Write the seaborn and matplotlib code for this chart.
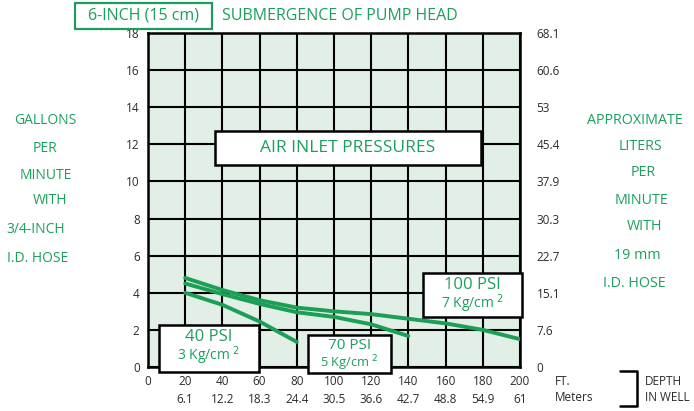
import pandas as pd
import matplotlib
matplotlib.use("Agg")
import matplotlib.pyplot as plt
import seaborn as sns

# ---- data ----
depth_ft = [0, 20, 40, 60, 80, 100, 120, 140, 160, 180, 200]
depth_m = ["", "6.1", "12.2", "18.3", "24.4", "30.5", "36.6", "42.7", "48.8", "54.9", "61"]
gpm_ticks = [0, 2, 4, 6, 8, 10, 12, 14, 16, 18]
lpm_labels = ["0", "7.6", "15.1", "22.7", "30.3", "37.9", "45.4", "53", "60.6", "68.1"]

psi40_x = [20, 40, 60, 80]
psi40_y = [4.0, 3.35, 2.45, 1.35]
psi70_x = [20, 40, 60, 80, 100, 120, 140]
psi70_y = [4.5, 3.93, 3.4, 2.95, 2.7, 2.3, 1.67]
psi100_x = [20, 40, 60, 80, 100, 120, 140, 160, 180, 200]
psi100_y = [4.8, 4.15, 3.6, 3.2, 3.0, 2.85, 2.6, 2.35, 2.0, 1.5]

df = pd.concat([
    pd.DataFrame({"ft": psi40_x, "gpm": psi40_y, "psi": "40"}),
    pd.DataFrame({"ft": psi70_x, "gpm": psi70_y, "psi": "70"}),
    pd.DataFrame({"ft": psi100_x, "gpm": psi100_y, "psi": "100"}),
])

GREEN = "#1aa05c"
LINE = "#1b9e55"
BG = "#e1efe6"
W, H = 694, 411

sns.set_style("white")
plt.rcParams["font.family"] = ["Open Sans", "DejaVu Sans"]

fig = plt.figure(figsize=(6.94, 4.11), dpi=100)
ax = fig.add_axes([148 / W, 44 / H, 372 / W, 334 / H])
ax.set_facecolor(BG)

sns.lineplot(data=df, x="ft", y="gpm", hue="psi", palette=[LINE] * 3,
             linewidth=2.8, legend=False, ax=ax, zorder=3)

ax.set_xlim(0, 200)
ax.set_ylim(0, 18)
ax.set_xticks(depth_ft)
ax.set_xticklabels([f"{f}\n{m}" if m else f"{f}\n " for f, m in zip(depth_ft, depth_m)],
                   fontsize=8.5, color="#2b2b2b", linespacing=1.5)
ax.set_yticks(gpm_ticks)
ax.set_yticklabels(gpm_ticks, fontsize=8.5, color="#2b2b2b")
ax.grid(True, color="black", linewidth=1.5)
ax.tick_params(length=0, pad=6)
for s in ax.spines.values():
    s.set_color("black")
    s.set_linewidth(1.8)
ax.set_xlabel(None)
ax.set_ylabel(None)

ax2 = ax.twinx()
ax2.set_ylim(0, 18)
ax2.set_yticks(gpm_ticks)
ax2.set_yticklabels(lpm_labels, fontsize=8.5, color="#2b2b2b")
ax2.tick_params(length=0, pad=12)
for s in ax2.spines.values():
    s.set_visible(False)


# ---- boxes and notes (pixel positions from the top-left) ----
def rect(x0, y0, x1, y1, ec="black", lw=1.8):
    fig.add_artist(plt.Rectangle((x0 / W, 1 - y1 / H), (x1 - x0) / W, (y1 - y0) / H,
                                 transform=fig.transFigure, facecolor="white",
                                 edgecolor=ec, linewidth=lw, zorder=5))


def label(x, y, s, fs, color=GREEN, ha="center"):
    fig.text(x / W, 1 - y / H, s, fontsize=fs, color=color, ha=ha, va="center", zorder=6)


rect(75, 3, 212, 29, ec=GREEN, lw=1.6)
label(143, 16, "6-INCH (15 cm)", 11.5)
label(222, 16, "SUBMERGENCE OF PUMP HEAD", 11.5, ha="left")

rect(215, 131, 481, 165)
label(348, 148, "AIR INLET PRESSURES", 12.5)

psi_boxes = [(159, 325, 259, 372, "40 PSI", "3 Kg/cm $^{2}$"),
             (308, 335, 391, 373, "70 PSI", "5 Kg/cm $^{2}$"),
             (423, 273, 522, 317, "100 PSI", "7 Kg/cm $^{2}$")]
for x0, y0, x1, y1, top, bottom in psi_boxes:
    rect(x0, y0, x1, y1)
    cx = (x0 + x1) / 2
    if y1 - y0 > 42:
        label(cx, y0 + 12, top, 12)
        label(cx, y0 + 31, bottom, 10)
    else:
        label(cx, y0 + 10, top, 11)
        label(cx, y0 + 28, bottom, 9.3)

left_notes = [("GALLONS", 45, 121), ("PER", 45, 148), ("MINUTE", 46, 175),
              ("WITH", 50, 201), ("3/4-INCH", 36, 229), ("I.D. HOSE", 38, 258)]
for s, x, y in left_notes:
    label(x, y, s, 10)

right_notes = [("APPROXIMATE", 635, 120), ("LITERS", 640, 146), ("PER", 643, 172),
               ("MINUTE", 641, 200), ("WITH", 645, 226), ("19 mm", 637, 255),
               ("I.D. HOSE", 634, 283)]
for s, x, y in right_notes:
    label(x, y, s, 10.3)

label(555, 381, "FT.", 8.5, color="#2b2b2b", ha="left")
label(555, 397, "Meters", 8.5, color="#2b2b2b", ha="left")
fig.add_artist(plt.Line2D([620 / W, 637 / W, 637 / W, 620 / W],
                          [1 - 371 / H, 1 - 371 / H, 1 - 406 / H, 1 - 406 / H],
                          transform=fig.transFigure, color="black", linewidth=1.8))
label(645, 381, "DEPTH", 8.5, color="#2b2b2b", ha="left")
label(645, 397, "IN WELL", 8.5, color="#2b2b2b", ha="left")

fig.savefig("out.png", dpi=100)
